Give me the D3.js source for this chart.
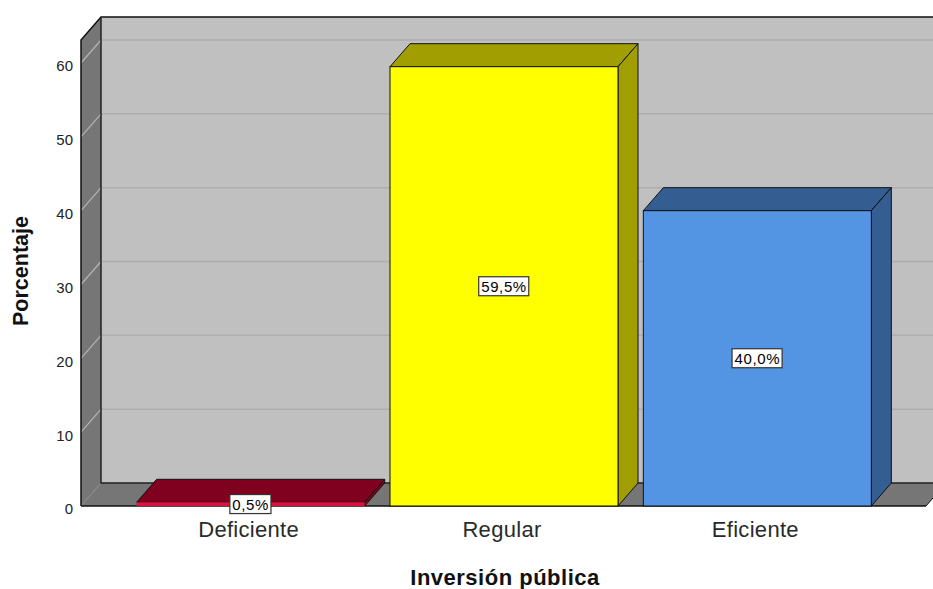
<!DOCTYPE html>
<html>
<head>
<meta charset="utf-8">
<script src="https://cdn.jsdelivr.net/npm/d3@7"></script>
<style>
body { margin: 0; background: #fff; }
svg { display: block; font-family: "Liberation Sans", Arial, sans-serif; }
</style>
</head>
<body>
<svg width="933" height="589"></svg>
<script>
var categories = ["Deficiente", "Regular", "Eficiente"];
var values = [0.5, 59.5, 40.0];
var valueLabels = ["0,5%", "59,5%", "40,0%"];
var frontColors = ["#e0103e", "#ffff00", "#5495e3"];
var sideColors = ["#800020", "#a09e00", "#345d91"];
var yTicks = [0, 10, 20, 30, 40, 50, 60];
var yMax = 63.1;

var svg = d3.select("svg");
var dx = 20, dy = -23;
var left = 81, right = 926;

var yScale = d3.scaleLinear().domain([0, 60]).range([506, 63]);
var xScale = d3.scaleBand().domain(categories).range([124, 884]).paddingInner(0.1).paddingOuter(0.05);

var y0 = yScale(0), yTop = yScale(yMax);

// back wall
svg.append("rect")
	.attr("x", left + dx).attr("y", yTop + dy)
	.attr("width", right - left).attr("height", y0 - yTop)
	.style("fill", "#c0c0c0");

// back wall gridlines
svg.selectAll("line.grid")
	.data(yTicks.slice(1))
	.enter()
	.append("line")
	.attr("class", "grid")
	.attr("x1", left + dx).attr("x2", right + dx)
	.attr("y1", d => yScale(d) + dy).attr("y2", d => yScale(d) + dy)
	.style("stroke", "#adadad").style("stroke-width", "1.5px");

// left wall
svg.append("polygon")
	.attr("points", [[left, yTop], [left + dx, yTop + dy], [left + dx, y0 + dy], [left, y0]].join(" "))
	.style("fill", "#767676");

svg.selectAll("line.wgrid")
	.data(yTicks.slice(1))
	.enter()
	.append("line")
	.attr("class", "wgrid")
	.attr("x1", left).attr("x2", left + dx)
	.attr("y1", d => yScale(d)).attr("y2", d => yScale(d) + dy)
	.style("stroke", "#b4b4b4").style("stroke-width", "1.2px");

// floor
svg.append("polygon")
	.attr("points", [[left, y0], [right, y0], [right + dx, y0 + dy], [left + dx, y0 + dy]].join(" "))
	.style("fill", "#767676");

// wall edges
svg.append("path")
	.attr("d", "M" + left + "," + y0 + "V" + yTop + "L" + (left + dx) + "," + (yTop + dy) + "H" + (right + dx))
	.style("fill", "none").style("stroke", "#111").style("stroke-width", "1.5px");
svg.append("path")
	.attr("d", "M" + (left + dx) + "," + (yTop + dy) + "V" + (y0 + dy) + "H" + (right + dx))
	.style("fill", "none").style("stroke", "#222").style("stroke-width", "1.5px");
svg.append("line")
	.attr("x1", left).attr("x2", right).attr("y1", y0).attr("y2", y0)
	.style("stroke", "#111").style("stroke-width", "1.5px");
svg.append("line")
	.attr("x1", right).attr("x2", right + dx).attr("y1", y0).attr("y2", y0 + dy)
	.style("stroke", "#111").style("stroke-width", "1px");

// bars
var bw = xScale.bandwidth();
var bars = svg.selectAll("g.bar")
	.data(values)
	.enter()
	.append("g")
	.attr("class", "bar");

bars.append("polygon")
	.attr("points", (d, i) => {
		var x = xScale(categories[i]), y = yScale(d);
		return [[x, y], [x + bw, y], [x + bw + dx, y + dy], [x + dx, y + dy]].join(" ");
	})
	.style("fill", (d, i) => sideColors[i])
	.style("stroke", "#111").style("stroke-width", "1px").style("stroke-linejoin", "round");

bars.append("polygon")
	.attr("points", (d, i) => {
		var x = xScale(categories[i]) + bw, y = yScale(d);
		return [[x, y], [x + dx, y + dy], [x + dx, y0 + dy], [x, y0]].join(" ");
	})
	.style("fill", (d, i) => sideColors[i])
	.style("stroke", "#111").style("stroke-width", "1px").style("stroke-linejoin", "round");

bars.append("rect")
	.attr("x", (d, i) => xScale(categories[i]))
	.attr("y", d => yScale(d))
	.attr("width", bw)
	.attr("height", d => y0 - yScale(d))
	.style("fill", (d, i) => frontColors[i])
	.style("stroke", (d, i) => i == 0 ? "none" : "#111").style("stroke-width", "1px");

// value labels
var labels = svg.selectAll("g.vlab")
	.data(values)
	.enter()
	.append("g")
	.attr("class", "vlab")
	.attr("transform", (d, i) => "translate(" + (xScale(categories[i]) + bw / 2) + "," + Math.min((yScale(d) + y0) / 2, y0 - 1) + ")");

labels.append("rect").attr("class", "box");
labels.append("text")
	.attr("text-anchor", "middle")
	.attr("dy", "0.36em")
	.style("font-size", "15px")
	.style("letter-spacing", "0.6px")
	.style("fill", "#000")
	.text((d, i) => valueLabels[i]);
labels.each(function() {
	var g = d3.select(this);
	var bb = g.select("text").node().getBBox();
	g.select("rect")
		.attr("x", bb.x - 2.5).attr("y", bb.y - 1)
		.attr("width", bb.width + 4.5).attr("height", bb.height + 2)
		.style("fill", "#fff").style("stroke", "#333").style("stroke-width", "1.2px");
});

// y tick labels
svg.selectAll("text.ytick")
	.data(yTicks)
	.enter()
	.append("text")
	.attr("class", "ytick")
	.attr("x", 73)
	.attr("y", d => yScale(d) + 3)
	.attr("dy", "0.36em")
	.attr("text-anchor", "end")
	.style("font-size", "15px")
	.style("fill", "#222")
	.text(d => d);

// category labels
svg.selectAll("text.xcat")
	.data(categories)
	.enter()
	.append("text")
	.attr("class", "xcat")
	.attr("x", d => xScale(d) + bw / 2 - 2)
	.attr("y", 537)
	.attr("text-anchor", "middle")
	.style("font-size", "22px")
	.style("letter-spacing", "0.3px")
	.style("fill", "#2a2a2a")
	.text(d => d);

// axis titles
svg.append("text")
	.attr("x", 505).attr("y", 585)
	.attr("text-anchor", "middle")
	.style("font-size", "22px").style("font-weight", "bold").style("letter-spacing", "0.5px").style("fill", "#111")
	.text("Inversión pública");

svg.append("text")
	.attr("transform", "translate(28,271) rotate(-90)")
	.attr("text-anchor", "middle")
	.style("font-size", "21.5px").style("font-weight", "bold").style("fill", "#111")
	.text("Porcentaje");
</script>
</body>
</html>
